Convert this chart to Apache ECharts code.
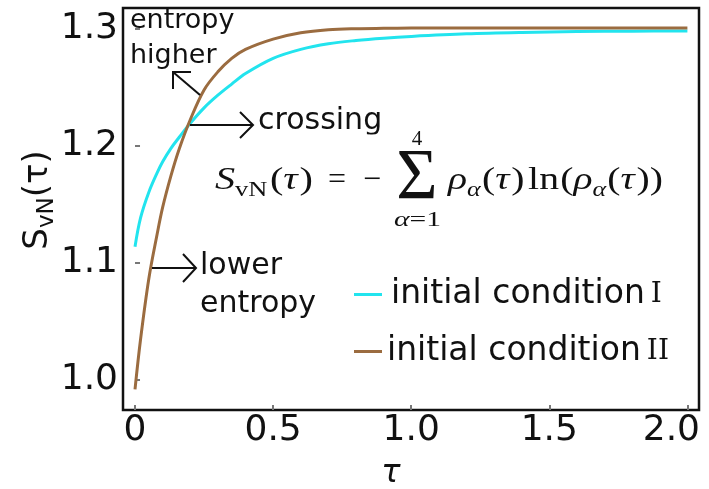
<!DOCTYPE html>
<html>
<head>
<meta charset="utf-8">
<script src="https://cdn.jsdelivr.net/npm/echarts@6/dist/echarts.min.js"></script>
<style>
  html, body { margin: 0; padding: 0; background: #fff; }
  #chart { width: 709px; height: 489px; }
</style>
</head>
<body>
<div id="chart"></div>
<script>
// von Neumann entropy versus time for two initial conditions
const tau = [0, 0.02, 0.05, 0.08, 0.10, 0.13, 0.16, 0.20, 0.25, 0.30, 0.35, 0.40,
             0.50, 0.60, 0.70, 0.80, 0.90, 1.00, 1.20, 1.40, 1.60, 1.80, 2.00];
const entropyI = [1.1134, 1.138, 1.160, 1.1765, 1.186, 1.1975, 1.207, 1.219, 1.2322, 1.243,
                  1.2525, 1.2615, 1.2745, 1.2822, 1.287, 1.2898, 1.2918, 1.2933, 1.2955,
                  1.2967, 1.2974, 1.2978, 1.2980];
const entropyII = [0.9914, 1.034, 1.086, 1.124, 1.147, 1.174, 1.197, 1.222, 1.2475, 1.263,
                   1.2745, 1.2822, 1.291, 1.2964, 1.299, 1.2999, 1.3002, 1.3004, 1.3004,
                   1.3004, 1.3004, 1.3004, 1.3004];
const xTicks = [0, 0.5, 1.0, 1.5, 2.0];
const yTicks = [1.0, 1.1, 1.2, 1.3];
const numerals = ['I', 'II'];
const seriesNames = numerals.map(n => 'initial condition ' + n);

const SANS = 'DejaVu Sans';
const SERIF = 'Liberation Serif';
const INK = '#111';
const CYAN = '#22e4ee';
const BROWN = '#9b6c40';

const chart = echarts.init(document.getElementById('chart'), null, { renderer: 'canvas' });

// ---- text helpers -------------------------------------------------------
const ctx = document.createElement('canvas').getContext('2d');
function fontOf(size, italic, family) {
  return (italic ? 'italic ' : '') + size + 'px "' + family + '"';
}
function measure(text, font) { ctx.font = font; return ctx.measureText(text).width; }

// text placed by its left edge (or centre) and its baseline
function put(text, x, baseline, size, opt) {
  opt = opt || {};
  const family = opt.family || SERIF;
  const k = family === SANS ? 0.346 : 0.338;
  return {
    type: 'text', z: 100,
    x: x, y: baseline - k * size,
    style: {
      text: text,
      font: fontOf(size, opt.italic, family),
      fill: INK,
      align: opt.align || 'left',
      verticalAlign: 'middle'
    }
  };
}
function sans(text, x, baseline, size) {
  return put(text, x, baseline, size, { family: SANS });
}
function arrow(points) {
  return {
    type: 'polyline', z: 100,
    shape: { points: points },
    style: { stroke: INK, lineWidth: 2, fill: null }
  };
}

// math row: tokens set side by side, then stretched to a given width
const M = 32, SUB = 21;
function mathRow(x0, baseline, width, tokens, drop) {
  let x = 0;
  const children = tokens.map(t => {
    const size = t.sub ? SUB : M;
    const font = fontOf(size, t.i, SERIF);
    const el = {
      type: 'text', z: 100, x: x, y: (t.sub ? drop : 0) - 0.338 * size,
      style: { text: t.s, font: font, fill: INK, align: 'left', verticalAlign: 'middle' }
    };
    x += measure(t.s, font) + (t.after || 0);
    return el;
  });
  return { type: 'group', x: x0, y: baseline, scaleX: width / x, children: children };
}

const formula = [
  mathRow(215, 191, 98, [
    { s: 'S', i: true }, { s: 'vN', sub: true, after: 2 }, { s: '(' },
    { s: 'τ', i: true, after: 1.5 }, { s: ')' }
  ], 7),
  put('=', 328, 191, M),
  put('−', 363, 191, M),
  put('Σ', 417, 203, 71, { align: 'center' }),
  put('4', 417, 147, SUB, { align: 'center' }),
  mathRow(394, 228, 47, [
    { s: 'α', i: true, sub: true }, { s: '=', sub: true }, { s: '1', sub: true }
  ], 0),
  mathRow(448, 191, 215, [
    { s: 'ρ', i: true }, { s: 'α', i: true, sub: true, after: 1 }, { s: '(' },
    { s: 'τ', i: true, after: 1.5 }, { s: ')', after: 3 }, { s: 'ln', after: 1 }, { s: '(' },
    { s: 'ρ', i: true }, { s: 'α', i: true, sub: true, after: 1 }, { s: '(' },
    { s: 'τ', i: true, after: 1.5 }, { s: ')' }, { s: ')' }
  ], 7)
];

const notes = [
  sans('entropy', 130, 30, 27),
  sans('higher', 130, 65, 27),
  arrow([[200, 95], [173, 72]]),
  arrow([[191, 72], [173, 72], [173, 89]]),
  arrow([[190, 125], [253, 125]]),
  arrow([[240, 112], [253, 125], [240, 138]]),
  sans('crossing', 258, 132, 30),
  { type: 'rect', z: 101, shape: { x: 255, y: 134.5, width: 135, height: 9 }, style: { fill: '#fff' } },
  arrow([[152, 268], [196, 268]]),
  arrow([[183, 254], [196, 268], [183, 282]]),
  sans('lower', 200, 277, 30),
  sans('entropy', 200, 315, 30)
];

const option = {
  animation: false,
  backgroundColor: '#fff',
  grid: {
    left: 123, right: 10, top: 8, bottom: 79,
    containLabel: false, outerBoundsMode: 'none',
    show: true, borderColor: INK, borderWidth: 2.5, backgroundColor: 'transparent'
  },
  xAxis: {
    type: 'value', min: -0.0435, max: 2.042,
    name: 'τ', nameLocation: 'middle', nameGap: 48, nameMoveOverlap: false,
    nameTextStyle: { fontFamily: SANS, fontSize: 32, fontStyle: 'italic', color: INK, padding: [0, 40, 0, 0] },
    axisLine: { show: false },
    splitLine: { show: false },
    axisTick: { customValues: xTicks, inside: true, length: 5, lineStyle: { color: '#777', width: 2 } },
    axisLabel: {
      customValues: xTicks, margin: 3, fontFamily: SANS, fontSize: 36, color: INK,
      // the last label is pulled in so it stays inside the canvas
      formatter: v => (v === 0 ? '0' : v === 2 ? '{edge|2.0}' : v.toFixed(1)),
      rich: { edge: { fontFamily: SANS, fontSize: 36, color: INK, padding: [0, 32, 0, 0] } }
    }
  },
  yAxis: {
    type: 'value', min: 0.9737, max: 1.3176,
    name: '{s|S}{sub|vN}{s|(τ)}', nameLocation: 'middle', nameGap: 64, nameMoveOverlap: false,
    nameTextStyle: {
      padding: [0, 0, 0, 18],
      rich: {
        s: { fontFamily: SANS, fontSize: 34, color: INK, lineHeight: 42, verticalAlign: 'middle' },
        sub: { fontFamily: SANS, fontSize: 23, color: INK, lineHeight: 20, verticalAlign: 'bottom' }
      }
    },
    axisLine: { show: false },
    splitLine: { show: false },
    axisTick: { customValues: yTicks, inside: true, length: 5, lineStyle: { color: '#777', width: 2 } },
    axisLabel: {
      customValues: yTicks, margin: 5, fontFamily: SANS, fontSize: 36, color: INK,
      formatter: v => v.toFixed(1)
    }
  },
  legend: {
    orient: 'vertical', left: 349, top: 273,
    itemWidth: 28, itemHeight: 3, icon: 'rect', itemGap: 24,
    data: seriesNames,
    formatter: name => {
      const i = seriesNames.indexOf(name);
      return (i === 0 ? '{g0|}' : '') + '{t|initial condition}{gap|}{r|' + numerals[i] + '}';
    },
    textStyle: {
      rich: {
        g0: { width: 4, lineHeight: 40 },
        t: { fontFamily: SANS, fontSize: 33, color: INK, lineHeight: 40 },
        gap: { width: 6, lineHeight: 40 },
        r: { fontFamily: 'DejaVu Serif', fontSize: 28, color: INK, lineHeight: 40 }
      }
    }
  },
  series: [
    {
      name: seriesNames[0], type: 'line', showSymbol: false, smooth: 0.35,
      lineStyle: { color: CYAN, width: 3 }, itemStyle: { color: CYAN },
      data: tau.map((t, i) => [t, entropyI[i]])
    },
    {
      name: seriesNames[1], type: 'line', showSymbol: false, smooth: 0.35,
      lineStyle: { color: BROWN, width: 3 }, itemStyle: { color: BROWN },
      data: tau.map((t, i) => [t, entropyII[i]])
    }
  ],
  graphic: formula.concat(notes)
};

chart.setOption(option);
</script>
</body>
</html>
